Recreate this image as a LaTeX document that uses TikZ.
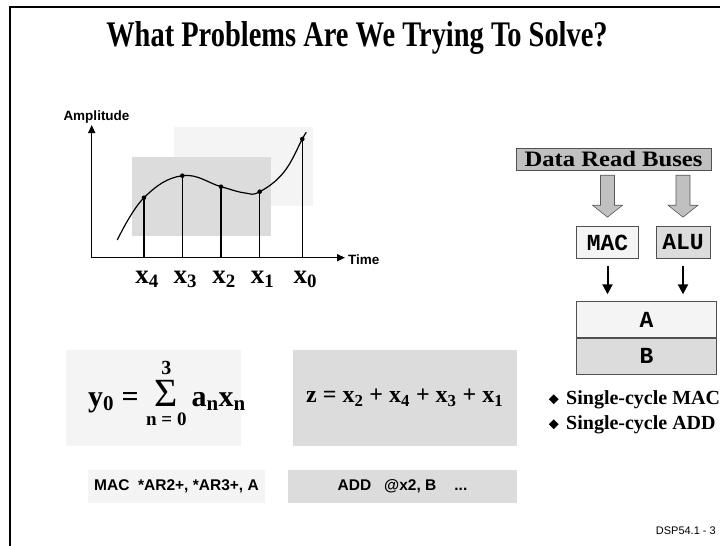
\RequirePackage{fix-cm}
\documentclass[tikz,border=0pt]{standalone}
\usepackage{fontspec}
\setmainfont{Liberation Serif}
\setsansfont{Liberation Sans}
\setmonofont{Liberation Mono}
\usetikzlibrary{arrows.meta,positioning,calc,shapes.geometric}
\definecolor{panelgray}{HTML}{DCDCDC}
\definecolor{panellight}{HTML}{F4F4F4}
\definecolor{busgray}{HTML}{C0C0C0}
\definecolor{framegray}{HTML}{505050}
\newcommand{\pxfont}[1]{\fontsize{#1}{#1}\selectfont}

\begin{document}
\begin{tikzpicture}[x=1pt,y=-1pt,
    title/.style={anchor=base,inner sep=0pt,font=\pxfont{36}\bfseries},
    axlab/.style={anchor=base west,inner sep=0pt,font=\pxfont{13.5}\sffamily\bfseries},
    xlab/.style={anchor=base,inner sep=0pt,font=\pxfont{27}\bfseries},
    panel/.style={inner sep=0pt,outer sep=0pt},
    instr/.style={panel,minimum height=33pt,font=\pxfont{15.5}\sffamily\bfseries},
    unit/.style={draw=framegray,line width=0.8pt,inner sep=0pt,minimum height=31.6pt,font=\pxfont{23}\ttfamily\bfseries},
    reg/.style={unit,minimum width=139.3pt,minimum height=35.8pt},
    blockarr/.style={fill=busgray,draw=gray!70!black,line width=0.6pt},
    arr/.style={-{Triangle[length=10pt,width=10pt]},line width=2pt,shorten <=7pt,shorten >=7pt},
    bullet/.style={anchor=base west,inner sep=0pt,font=\pxfont{20}\bfseries},
    bmark/.style={diamond,fill=black,inner sep=0pt,minimum width=10pt,minimum height=10pt}
  ]
  \useasboundingbox (0,0) rectangle (720,546);
  % slide frame
  \draw[line width=1.5pt] (10,546) -- (10,7) -- (720,7);
  \node[title] (title) at (357,46.7) {\scalebox{0.79}[1]{What Problems Are We Trying To Solve?}};

  % sampled signal
  \fill[panellight] (174,127.3) rectangle (313,206);
  \fill[panelgray] (131.7,157.3) rectangle (271,235.7);
  \coordinate (org) at (91.7,257.7);
  \coordinate (ytop) at (91.7,125);
  \coordinate (xend) at (345,257.7);
  \draw[-{Triangle[length=8pt,width=7pt]},line width=1.4pt] (org) -- (ytop);
  \draw[-{Triangle[length=8pt,width=7pt]},line width=1.4pt] (org) -- (xend);
  \node[axlab] (amp) at (63.3,120) {Amplitude};
  \node[axlab] (time) at (348,264) {Time};
  \draw[line width=1.2pt] plot[smooth,tension=0.7] coordinates {(117.3,240) (144,197.7) (182.3,175.7) (221,186.7) (245,193) (259.7,191.7) (284,172) (302.3,139) (306.3,132.3)};
  \foreach \k/\px/\py/\w in {4/144/197.7/2,3/182.3/175.7/1.3,2/221/186.7/2,1/259.7/191.7/1.3,0/302.3/139/1.3}{
    \coordinate (s\k) at (\px,\py);
    \draw[line width=\w pt] (s\k) -- (s\k |- org);
    \fill (s\k) circle (2.3);
    \node[xlab] (lab\k) at (\px+3,283.3) {x\textsubscript{\k}};
  }

  % data path
  \node[panel,draw=framegray,line width=0.8pt,fill=busgray,minimum width=195pt,minimum height=22pt,font=\pxfont{22}\bfseries] (buses) at (613.5,159.2) {\scalebox{1.12}[1]{Data Read Buses}};
  \node[unit,fill=panellight,minimum width=61.6pt] (mac) at (607.5,242.5) {MAC};
  \node[unit,fill=panelgray,minimum width=54pt] (alu) at (683,242.5) {ALU};
  \foreach \u in {mac,alu}{
    \draw[blockarr] ($(buses.south -| \u.north)+(-7,5)$) -- ++(14,0) -- ++(0,30) -- ++(8,0) -- ++(-15,12) -- ++(-15,-12) -- ++(8,0) -- cycle;
  }
  \node[reg,fill=panellight] (rega) at (646.4,319.6) {A};
  \node[reg,fill=panelgray,below=0pt of rega] (regb) {B};
  \draw[arr] (mac.south) -- (mac.south |- rega.north);
  \draw[arr] (alu.south) -- (alu.south |- rega.north);
  \node[bullet] (cyc1) at (566,404) {Single-cycle MAC};
  \node[bullet] (cyc2) at (566,429) {Single-cycle ADD};
  \node[bmark,left=7pt of cyc1] (dot1) {};
  \node[bmark,left=7pt of cyc2] (dot2) {};

  % equations and code
  \node[panel,fill=panellight,minimum width=175pt,minimum height=96pt] (sumbox) at (153.5,398) {};
  \node[anchor=base,inner sep=0pt,font=\pxfont{30}\bfseries] (sumeq) at (167,406) {y\textsubscript{0} = $\mathop{\hbox{\pxfont{40}\mdseries Σ}}\limits^{\hbox{\pxfont{20}\bfseries\rule[-4pt]{0pt}{4pt}3}}_{\hbox{\pxfont{19}\bfseries\rule{0pt}{18pt}n = 0}}$\,a\textsubscript{n}x\textsubscript{n}};
  \node[panel,fill=panelgray,minimum width=224pt,minimum height=96pt,font=\pxfont{24}\bfseries] (zbox) at (404.7,398) {z = x\textsubscript{2} + x\textsubscript{4} + x\textsubscript{3} + x\textsubscript{1}};
  \node[instr,fill=panellight,minimum width=177pt] (maccode) at (176.5,486.5) {MAC\ \ *AR2+, *AR3+, A};
  \node[instr,fill=panelgray,minimum width=228.4pt] (addcode) at (402.5,486.5) {ADD\hspace{13pt}@x2, B\hspace{18pt}...};
  \node[anchor=base east,inner sep=0pt,font=\pxfont{11}\sffamily] (page) at (716,534.7) {DSP54.1 - 3};
\end{tikzpicture}
\end{document}
